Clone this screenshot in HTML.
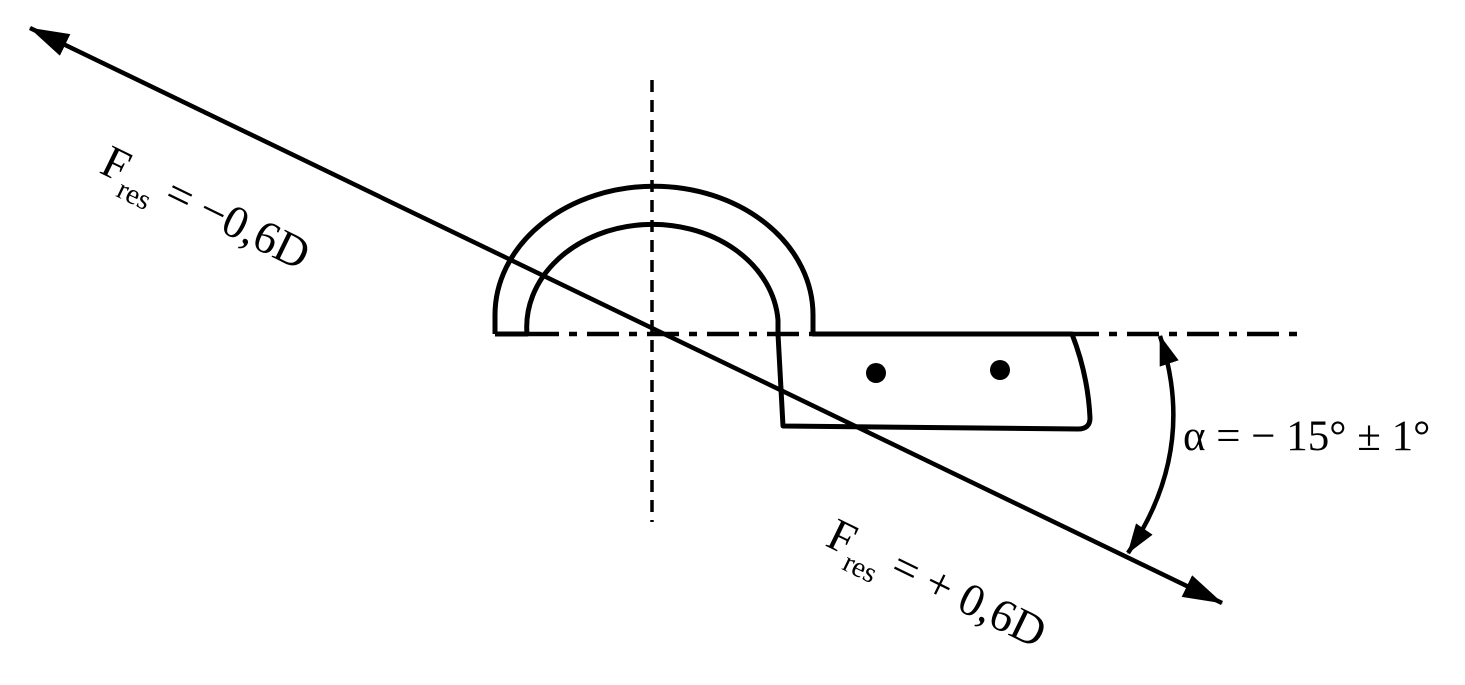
<!DOCTYPE html>
<html><head><style>body{margin:0;background:#fff}svg{display:block}</style></head>
<body>
<svg width="1465" height="685" viewBox="0 0 1465 685" xmlns="http://www.w3.org/2000/svg">
<defs>
<marker id="big" viewBox="0 0 40 24" refX="39" refY="12" markerWidth="40" markerHeight="24" orient="auto-start-reverse" markerUnits="userSpaceOnUse">
<path d="M0,0 L40,12 L0,24 Z" fill="#000"/></marker>
<marker id="mid" viewBox="0 0 30 20" refX="29" refY="10" markerWidth="30" markerHeight="20" orient="auto-start-reverse" markerUnits="userSpaceOnUse">
<path d="M0,0 L30,10 L0,20 Z" fill="#000"/></marker>
</defs>
<g fill="none" stroke="#000">
<line x1="652" y1="80" x2="652" y2="522" stroke-width="3.5" stroke-dasharray="12,8"/>
<line x1="527" y1="334" x2="1305" y2="334" stroke-width="4.5" stroke-dasharray="32,10,8,10"/>
<path d="M495,334 L495,315 A158,128 0 0 1 813,315 L813,334 L1072,334 Q1088,375 1090,418 Q1090,429 1078,429 L783,426 L778,334 L778,320 A125,102 0 0 0 527,334 L495,334" stroke-width="5" stroke-linejoin="round"/>
<line x1="1222" y1="603" x2="30" y2="28" stroke-width="4.5" marker-start="url(#big)" marker-end="url(#big)"/>
<path d="M1160,336 Q1198,450 1128,553" stroke-width="4.5" marker-start="url(#mid)" marker-end="url(#mid)"/>
</g>
<circle cx="876" cy="373" r="10"/>
<circle cx="1000" cy="370" r="10"/>
<g font-family="'Liberation Serif',serif" font-size="46" fill="#000">
<text transform="translate(98,172) rotate(26)">F<tspan font-size="29" dy="14">res</tspan><tspan dy="-14"> = −0,6D</tspan></text>
<text transform="translate(824,545) rotate(26)">F<tspan font-size="29" dy="14">res</tspan><tspan dy="-14"> = + 0,6D</tspan></text>
<text x="1183" y="450" font-size="43">α = − 15° ± 1°</text>
</g>
</svg>
</body></html>
